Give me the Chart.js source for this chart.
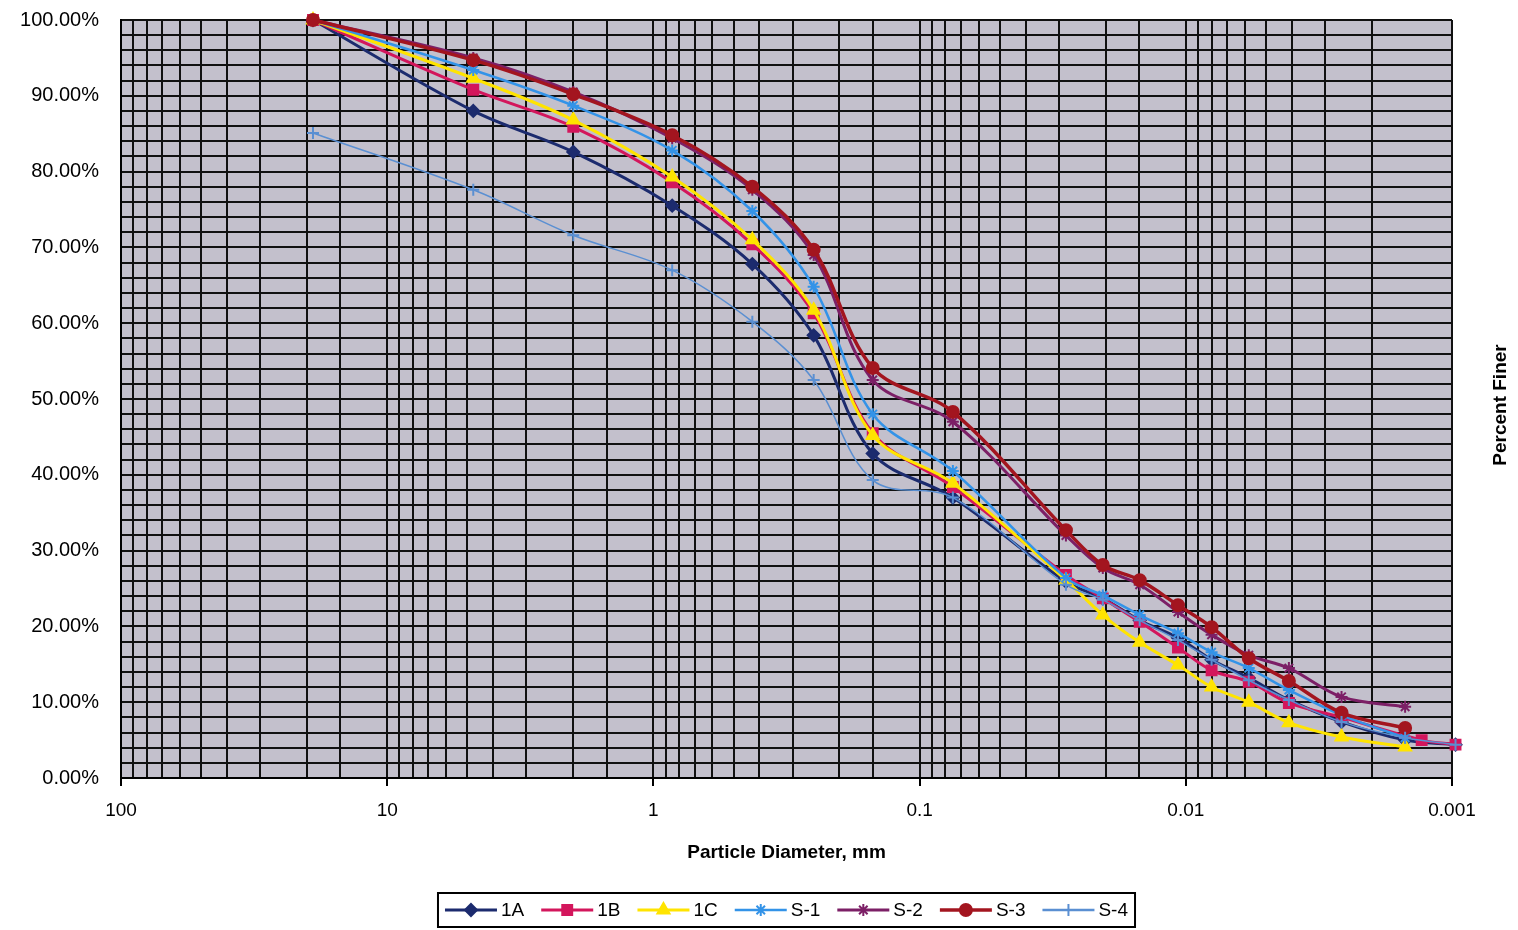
<!DOCTYPE html>
<html>
<head>
<meta charset="utf-8">
<script src="https://cdn.jsdelivr.net/npm/chart.js@4.4.0/dist/chart.umd.min.js"></script>
<style>
  html, body { margin: 0; padding: 0; background: #fff; }
</style>
</head>
<body>
<canvas id="gsd" width="1518" height="930"></canvas>
<script>
// particle diameters (mm): sieves then hydrometer readings
const diamMm = [19, 4.75, 2.0, 0.85, 0.425, 0.25, 0.15, 0.075,
  0.0282, 0.0205, 0.0149, 0.0107, 0.0080, 0.0058, 0.0041, 0.0026, 0.0015, 0.0013, 0.00097];

// percent finer for each sample (null = no reading)
const pct1A = [100, 88.0, 82.6, 75.5, 67.8, 58.4, 42.8, 37.0, 25.9, 23.7, 20.8, 18.5, 15.6, 13.2, 10.3, 7.4, 5.0, null, 4.4];
const pct1B = [100, 90.8, 85.9, 78.6, 70.4, 61.3, 45.5, 38.4, 26.8, 23.7, 20.6, 17.2, 14.2, 12.7, 9.9, 8.0, null, 5.0, 4.4];
const pct1C = [100, 92.3, 86.8, 79.3, 71.0, 61.7, 45.2, 38.9, 26.1, 21.5, 17.9, 14.9, 12.0, 10.0, 7.3, 5.4, 4.1, null, null];
const pctS1 = [100, 93.4, 88.7, 82.8, 74.8, 64.8, 48.0, 40.5, 26.4, 24.1, 21.5, 19.1, 16.6, 14.5, 11.6, 8.3, 5.3, null, null];
const pctS2 = [100, 95.0, 90.5, 84.4, 77.6, 69.0, 52.5, 47.0, 32.0, 27.7, 25.5, 21.9, 18.9, 16.2, 14.5, 10.7, 9.4, null, null];
const pctS3 = [100, 94.7, 90.2, 84.8, 78.0, 69.7, 54.1, 48.3, 32.7, 28.1, 26.1, 22.8, 19.9, 15.8, 12.8, 8.6, 6.6, null, null];
const pctS4 = [85.1, 77.6, 71.6, 67.0, 60.2, 52.5, 39.3, 37.0, 25.5, 23.5, 20.8, 18.2, 15.6, 12.9, 10.3, 7.4, 5.3, null, 4.4];

const seriesNames = ['1A', '1B', '1C', 'S-1', 'S-2', 'S-3', 'S-4'];
const seriesPct = [pct1A, pct1B, pct1C, pctS1, pctS2, pctS3, pctS4];
const seriesColors = ['#1c2b6e', '#d3165c', '#ffe400', '#3393e8', '#7c1f66', '#a3151f', '#5a8fd2'];
const seriesMarkers = ['rectRot', 'rect', 'triangle', 'star', 'star', 'circle', 'cross'];
const seriesWidths = [3, 3, 3, 2.5, 3, 3.5, 1.5];
const seriesRadius = [6, 7, 7, 6, 6, 6, 6];

const xTicks = [100, 10, 1, 0.1, 0.01, 0.001];
const xTitle = 'Particle Diameter, mm';
const yTitle = 'Percent Finer';

const FONT = 'Arial, "Liberation Sans", sans-serif';

function isDecade(v) {
  return xTicks.some(t => Math.abs(v - t) / t < 1e-6);
}

function points(arr) {
  return diamMm.map((d, i) => ({x: d, y: arr[i]})).filter(p => p.y !== null);
}

const plotBg = {
  id: 'plotBg',
  beforeDraw(chart) {
    const {ctx, chartArea: a} = chart;
    ctx.save();
    ctx.fillStyle = '#c3c0cc';
    ctx.fillRect(a.left, a.top, a.right - a.left, a.bottom - a.top);
    ctx.restore();
  }
};

// titles and the boxed legend, drawn like the spreadsheet original
const extras = {
  id: 'extras',
  afterDraw(chart) {
    const {ctx, chartArea: a} = chart;
    ctx.save();
    ctx.fillStyle = '#000';
    ctx.textAlign = 'center';
    ctx.textBaseline = 'middle';
    ctx.font = 'bold 19px ' + FONT;
    ctx.fillText(xTitle, (a.left + a.right) / 2, 853);

    ctx.save();
    ctx.translate(1501, (a.top + a.bottom) / 2 + 6);
    ctx.rotate(-Math.PI / 2);
    ctx.font = 'bold 19px ' + FONT;
    ctx.fillText(yTitle, 0, 0);
    ctx.restore();

    ctx.font = '19px ' + FONT;
    const lineLen = 52, gap = 4, spacing = 17, pad = 7, h = 34;
    const items = chart.data.datasets.map(ds => ({ds, w: lineLen + gap + ctx.measureText(ds.label).width}));
    const total = items.reduce((s, it) => s + it.w, 0) + spacing * (items.length - 1) + pad * 2;
    const top = 893;
    let x = (a.left + a.right) / 2 - total / 2;
    ctx.lineWidth = 2;
    ctx.strokeStyle = '#000';
    ctx.strokeRect(x, top, total, h);
    x += pad;
    const cy = top + h / 2;
    items.forEach(it => {
      const ds = it.ds;
      ctx.strokeStyle = ds.borderColor;
      ctx.lineWidth = Math.max(ds.borderWidth, 2.5);
      ctx.beginPath();
      ctx.moveTo(x, cy);
      ctx.lineTo(x + lineLen, cy);
      ctx.stroke();
      ctx.fillStyle = ds.pointBackgroundColor;
      ctx.strokeStyle = ds.pointBorderColor;
      ctx.lineWidth = ds.pointBorderWidth;
      Chart.helpers.drawPoint(ctx, {
        pointStyle: ds.pointStyle, radius: ds.pointRadius,
        borderWidth: ds.pointBorderWidth, rotation: 0
      }, x + lineLen / 2, cy);
      ctx.fillStyle = '#000';
      ctx.textAlign = 'left';
      ctx.fillText(ds.label, x + lineLen + gap, cy + 1);
      x += it.w + spacing;
    });
    ctx.restore();
  }
};

const datasets = seriesNames.map((name, i) => ({
  label: name,
  data: points(seriesPct[i]),
  borderColor: seriesColors[i],
  backgroundColor: seriesColors[i],
  borderWidth: seriesWidths[i],
  pointStyle: seriesMarkers[i],
  pointRadius: seriesRadius[i],
  pointBackgroundColor: seriesColors[i],
  pointBorderColor: seriesColors[i],
  pointBorderWidth: 2,
  tension: 0.35,
  clip: false,
  order: seriesNames.length - i
}));

new Chart(document.getElementById('gsd'), {
  type: 'line',
  data: {datasets},
  plugins: [plotBg, extras],
  options: {
    responsive: false,
    animation: false,
    layout: {padding: {top: 20, right: 66, bottom: 102, left: 0}},
    plugins: {
      legend: {display: false},
      tooltip: {enabled: false}
    },
    scales: {
      x: {
        type: 'logarithmic',
        reverse: true,
        min: 0.001,
        max: 100,
        afterFit: s => { s.height = 50; s.paddingLeft = 0; s.paddingRight = 0; },
        grid: {
          color: '#111',
          lineWidth: 2,
          drawTicks: true,
          tickLength: 8,
          tickWidth: 2,
          tickColor: c => (c.tick && isDecade(c.tick.value) ? '#000' : 'rgba(0,0,0,0)')
        },
        border: {display: true, color: '#000', width: 2},
        ticks: {
          autoSkip: false,
          maxRotation: 0,
          padding: 13,
          color: '#000',
          font: {family: FONT, size: 19},
          callback: v => (isDecade(v) ? String(v) : '')
        }
      },
      y: {
        type: 'linear',
        min: 0,
        max: 100,
        afterFit: s => { s.width = 121; s.paddingTop = 0; s.paddingBottom = 0; },
        grid: {color: '#111', lineWidth: 2, drawTicks: false},
        border: {display: true, color: '#000', width: 2},
        ticks: {
          stepSize: 2,
          autoSkip: false,
          padding: 22,
          color: '#000',
          font: {family: FONT, size: 20},
          callback: v => (v % 10 === 0 ? v.toFixed(2) + '%' : '')
        }
      }
    }
  }
});
</script>
</body>
</html>
